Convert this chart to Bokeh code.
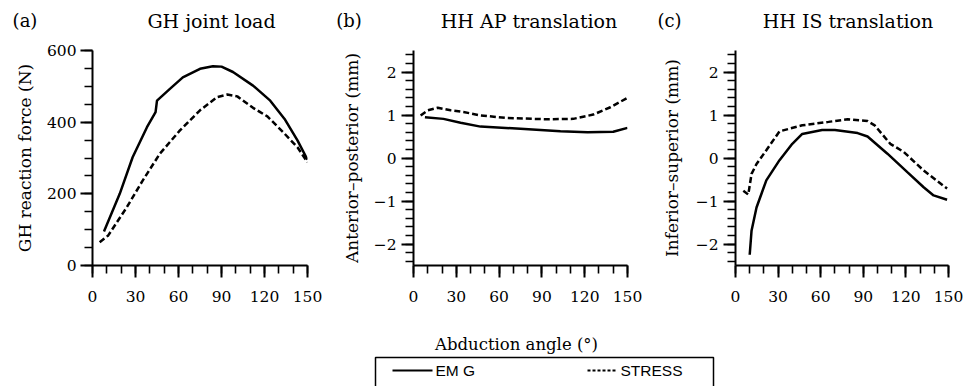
import numpy as np
from bokeh.plotting import figure
from bokeh.models import Range1d, FixedTicker
from bokeh.layouts import column, row
from bokeh.core.properties import value
from bokeh.embed import file_html
from bokeh.resources import INLINE

# ---------------- data ----------------
angle_ticks = [0, 30, 60, 90, 120, 150]
angle_minor = [0, 10, 20, 30, 40, 50, 60, 70, 80, 90, 100, 110, 120, 130, 140, 150]

gh_emg_x = [8, 19, 28, 38, 44, 45, 54, 63, 75, 84, 90, 98, 112, 124, 134, 143, 150]
gh_emg_y = [95, 200, 302, 386, 428, 460, 493, 525, 549, 556, 555, 540, 502, 460, 409, 349, 295]
gh_stress_x = [5, 11, 24, 35, 47, 61, 75, 87, 94, 101, 112, 117, 122, 133, 143, 150]
gh_stress_y = [65, 84, 163, 237, 312, 377, 433, 470, 477, 472, 440, 428, 416, 372, 330, 288]

ap_emg_x = [8, 21, 33, 47, 75, 103, 122, 140, 150]
ap_emg_y = [0.95, 0.91, 0.82, 0.73, 0.68, 0.62, 0.60, 0.61, 0.70]
ap_stress_x = [5, 10, 17, 26, 35, 47, 66, 94, 112, 126, 138, 150]
ap_stress_y = [0.99, 1.11, 1.17, 1.11, 1.07, 0.99, 0.93, 0.90, 0.91, 1.01, 1.18, 1.40]

is_emg_x = [10, 11.3, 14.8, 21.7, 31, 40, 47, 61, 70, 86, 93, 107, 121, 132.5, 139.5, 149]
is_emg_y = [-2.25, -1.69, -1.15, -0.52, -0.05, 0.33, 0.56, 0.65, 0.65, 0.58, 0.50, 0.10, -0.33, -0.68, -0.87, -0.97]
is_stress_x = [5.5, 9, 11.3, 14.8, 21.7, 31, 47, 65.5, 79, 93, 98, 109, 118.5, 132.5, 149]
is_stress_y = [-0.76, -0.85, -0.37, -0.14, 0.18, 0.62, 0.76, 0.84, 0.90, 0.86, 0.76, 0.33, 0.14, -0.29, -0.71]

force_ticks = [0, 200, 400, 600]
force_minor = [0, 50, 100, 150, 200, 250, 300, 350, 400, 450, 500, 550, 600]
mm_ticks = [-2, -1, 0, 1, 2]
mm_minor = [round(v, 1) for v in np.arange(-2.4, 2.41, 0.2)]
mm_overrides = {-2: "\u22122", -1: "\u22121"}

panel_letters = ["(a)", "(b)", "(c)"]
panel_titles = ["GH joint load", "HH AP translation", "HH IS translation"]
y_labels = ["GH reaction force (N)", "Anterior\u2013posterior (mm)", "Inferior\u2013superior (mm)"]
x_label = "Abduction angle (\u00b0)"
series_names = ["EM G", "STRESS"]

SERIF = "DejaVu Serif"
SANS = "Liberation Sans"
BLACK = "black"

# page-coordinate layout (Bokeh's page template has no body margin)
PAGE_W = 964
HEAD_TOP, HEAD_BOT = 0, 40          # header strip (titles)
PANEL_BOT = 308                     # panels end here
FOOT_BOT = 386                      # footer strip (x label + legend)
TOP, BOTTOM = 50, 265               # frame top/bottom
FA = (92, 307)
FB = (413, 627)
FC = (733, 948)
SPLIT = (0, 338, 658, PAGE_W)       # figure boundaries in the row


def strip(top, bottom):
    s = figure(width=PAGE_W, height=bottom - top, x_range=Range1d(0, PAGE_W),
               y_range=Range1d(bottom, top), output_backend="svg", toolbar_location=None,
               x_axis_type=None, y_axis_type=None,
               min_border_left=0, min_border_right=0, min_border_top=0, min_border_bottom=0)
    s.outline_line_color = None
    s.xgrid.visible = False
    s.ygrid.visible = False
    return s


def make_panel(i, frame, yr, yticks, yminor, ylabel, lab_std, ax_std, overrides=None):
    left, right = SPLIT[i], SPLIT[i + 1]
    p = figure(width=right - left, height=PANEL_BOT - HEAD_BOT, x_range=Range1d(0, 150),
               y_range=Range1d(*yr), output_backend="svg", toolbar_location=None,
               min_border_left=frame[0] - left, min_border_right=right - frame[1],
               min_border_top=TOP - HEAD_BOT, min_border_bottom=PANEL_BOT - BOTTOM)
    p.outline_line_color = None
    p.xgrid.visible = False
    p.ygrid.visible = False
    p.xaxis.ticker = FixedTicker(ticks=angle_ticks, minor_ticks=angle_minor)
    p.yaxis.ticker = FixedTicker(ticks=yticks, minor_ticks=yminor)
    if overrides:
        p.yaxis.major_label_overrides = overrides
    for ax in (p.xaxis[0], p.yaxis[0]):
        ax.axis_line_width = 2
        ax.axis_line_color = BLACK
        ax.major_tick_in = 0
        ax.major_tick_out = 12
        ax.minor_tick_in = 0
        ax.minor_tick_out = 8
        ax.major_tick_line_width = 2
        ax.minor_tick_line_width = 1.6
        ax.major_tick_line_color = BLACK
        ax.minor_tick_line_color = BLACK
        ax.major_label_text_font = SERIF
        ax.major_label_text_font_size = "15.5px"
        ax.major_label_text_color = BLACK
    p.xaxis.major_label_standoff = 13
    p.yaxis.major_label_standoff = lab_std
    p.yaxis.axis_label = ylabel
    p.yaxis.axis_label_text_font = SERIF
    p.yaxis.axis_label_text_font_size = "17px"
    p.yaxis.axis_label_text_font_style = "normal"
    p.yaxis.axis_label_text_color = BLACK
    p.yaxis.axis_label_standoff = ax_std
    return p


def draw(p, ex, ey, sx, sy):
    p.line(ex, ey, line_color=BLACK, line_width=2.5)
    p.line(sx, sy, line_color=BLACK, line_width=2.5, line_dash="6 3")


pa = make_panel(0, FA, (0, 600), force_ticks, force_minor, y_labels[0], 4, 9)
draw(pa, gh_emg_x, gh_emg_y, gh_stress_x, gh_stress_y)

pb = make_panel(1, FB, (-2.5, 2.5), mm_ticks, mm_minor, y_labels[1], 5, 9, mm_overrides)
draw(pb, ap_emg_x, ap_emg_y, ap_stress_x, ap_stress_y)

pc = make_panel(2, FC, (-2.5, 2.5), mm_ticks, mm_minor, y_labels[2], 5, 11, mm_overrides)
draw(pc, is_emg_x, is_emg_y, is_stress_x, is_stress_y)

# ---------------- header strip: panel letters + titles ----------------
head = strip(HEAD_TOP, HEAD_BOT)
head.text(x=[24.5, 348.5, 669], y=[19.5, 19.5, 19.5], text=panel_letters,
          text_font=value(SERIF), text_font_size="18px", text_align="center",
          text_baseline="alphabetic", text_color=BLACK)
head.text(x=[211, 528.5, 847.5], y=[20.5, 20.5, 20.5], text=panel_titles,
          text_font=value(SERIF), text_font_size="19px", text_align="center",
          text_baseline="alphabetic", text_color=BLACK)

# ---------------- footer strip: x label + legend ----------------
foot = strip(PANEL_BOT, FOOT_BOT)
foot.text(x=[516], y=[343.5], text=[x_label], text_font=value(SERIF),
          text_font_size="16.5px", text_align="center", text_baseline="alphabetic",
          text_color=BLACK)
foot.line([375, 375, 713, 713], [392, 357, 357, 392], line_color=BLACK, line_width=1.5)
foot.line([392, 432], [370, 370], line_color=BLACK, line_width=2.2)
foot.line([587, 615], [370, 370], line_color=BLACK, line_width=2.0, line_dash="3 2")
foot.text(x=[435, 620], y=[370, 370], text=series_names, text_font=value(SANS),
          text_font_size="15.5px", text_baseline="middle", text_align="left", text_color=BLACK)

layout = column(head, row(pa, pb, pc), foot)

open("out.html", "w").write(file_html(layout, INLINE))
